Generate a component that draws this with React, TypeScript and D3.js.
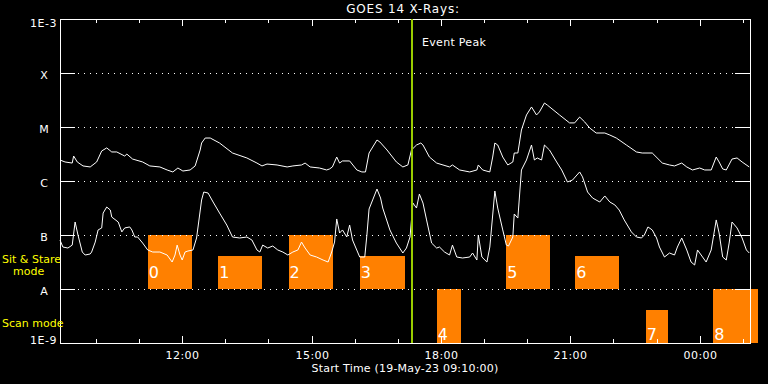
import React from "react";
import * as d3 from "d3";

// ---- data ----
const START = Date.UTC(2023, 4, 19, 9, 10, 0);
const DURATION_H = 16;
const title = "GOES 14 X-Rays:";
const xTitle = "Start Time (19-May-23 09:10:00)";
const eventPeak = "17:20";

const classLabels = ["X", "M", "C", "B", "A"];
const classValues = [1e-4, 1e-5, 1e-6, 1e-7, 1e-8];

// [minutes since start, flux W/m^2]
const longChannel: [number, number][] = [
  [0, 2.45e-6], [7, 2.25e-6], [17, 2.15e-6], [19, 2.9e-6], [24, 2.25e-6], [32, 1.9e-6], [42, 1.82e-6],
  [51, 2.25e-6], [58, 3.6e-6], [65, 4.1e-6], [72, 3.45e-6], [79, 3.45e-6], [90, 2.9e-6], [93, 3.15e-6],
  [101, 2.55e-6], [115, 2.25e-6], [125, 1.9e-6], [139, 1.82e-6], [149, 1.6e-6], [157, 1.47e-6],
  [164, 1.74e-6], [171, 1.53e-6], [181, 1.6e-6], [188, 1.9e-6], [195, 3.75e-6], [197, 5.05e-6],
  [202, 6.25e-6], [209, 6.25e-6], [222, 5.05e-6], [240, 3.3e-6], [260, 2.67e-6], [274, 2.15e-6],
  [281, 1.9e-6], [288, 2.06e-6], [302, 1.98e-6], [316, 1.82e-6], [324, 1.9e-6], [336, 1.98e-6],
  [341, 2.15e-6], [348, 1.82e-6], [361, 1.74e-6], [371, 1.6e-6], [375, 1.67e-6], [379, 1.82e-6],
  [385, 2.78e-6], [389, 2.15e-6], [393, 2.35e-6], [403, 2.35e-6], [413, 1.6e-6], [420, 1.47e-6],
  [425, 1.47e-6], [430, 3.3e-6], [441, 5.74e-6], [445, 5.28e-6], [455, 3.75e-6], [468, 2.25e-6],
  [477, 1.82e-6], [484, 1.98e-6], [489, 3.75e-6], [496, 4.64e-6], [502, 5.05e-6], [505, 4.64e-6],
  [514, 2.78e-6], [524, 2.15e-6], [542, 1.82e-6], [546, 1.98e-6], [556, 1.6e-6], [570, 1.47e-6],
  [580, 1.6e-6], [582, 1.98e-6], [588, 1.6e-6], [598, 1.47e-6], [602, 2.78e-6], [605, 5.05e-6],
  [609, 4.64e-6], [616, 2.78e-6], [623, 1.98e-6], [630, 2.25e-6], [632, 3.3e-6], [637, 3.3e-6],
  [642, 8.8e-6], [649, 1.67e-5], [656, 2.35e-5], [663, 1.67e-5], [667, 1.9e-5], [674, 2.78e-5],
  [678, 2.55e-5], [695, 1.67e-5], [709, 1.19e-5], [716, 1.19e-5], [723, 1.53e-5], [730, 1.24e-5],
  [737, 9.58e-6], [746, 7.74e-6], [758, 7.74e-6], [765, 7.1e-6], [774, 6.25e-6], [788, 4.64e-6],
  [802, 3.45e-6], [810, 3.3e-6], [824, 3.3e-6], [838, 2.15e-6], [848, 1.98e-6], [855, 1.9e-6],
  [865, 2.15e-6], [872, 1.82e-6], [880, 1.6e-6], [890, 1.74e-6], [897, 1.6e-6], [906, 1.6e-6],
  [913, 2.78e-6], [917, 2.25e-6], [922, 1.67e-6], [927, 1.6e-6], [935, 2.55e-6], [942, 2.67e-6],
  [949, 2.25e-6], [959, 1.82e-6],
];

const shortChannel: [number, number][] = [
  [0, 8.08e-8], [4, 5.99e-8], [11, 5.74e-8], [17, 6.5e-8], [21, 1.74e-7], [25, 1.0e-7], [31, 4.84e-8],
  [35, 4.26e-8], [42, 4.45e-8], [44, 4.84e-8], [49, 7.4e-8], [53, 1.24e-7], [58, 1.35e-7], [60, 2.55e-7],
  [65, 3.3e-7], [70, 2.9e-7], [72, 2.15e-7], [81, 1.74e-7], [86, 1.14e-7], [90, 1.35e-7], [97, 1.41e-7],
  [100, 1.24e-7], [104, 9.18e-8], [108, 9.18e-8], [115, 7.1e-8], [122, 5.28e-8], [129, 4.84e-8],
  [139, 4.84e-8], [149, 4.26e-8], [156, 3.16e-8], [160, 4.26e-8], [163, 6.5e-8], [167, 4.26e-8],
  [170, 3.44e-8], [174, 4.84e-8], [178, 5.05e-8], [185, 5.28e-8], [190, 8.8e-8], [197, 4.45e-7],
  [200, 6.25e-7], [206, 5.99e-7], [213, 4.08e-7], [222, 2.55e-7], [232, 1.53e-7], [240, 9.18e-8],
  [250, 8.8e-8], [260, 9.18e-8], [267, 8.08e-8], [274, 5.28e-8], [278, 4.84e-8], [282, 6.5e-8],
  [289, 5.74e-8], [296, 6.25e-8], [303, 5.28e-8], [310, 4.84e-8], [317, 4.26e-8], [324, 4.84e-8],
  [331, 5.28e-8], [336, 7.4e-8], [341, 5.74e-8], [348, 4.26e-8], [357, 3.91e-8], [366, 3.44e-8],
  [373, 3.16e-8], [378, 4.84e-8], [382, 7.4e-8], [385, 1.98e-7], [389, 1.09e-7], [393, 1.24e-7],
  [399, 9.18e-8], [403, 1.53e-7], [407, 8.08e-8], [417, 3.91e-8], [424, 3.91e-8], [427, 1.0e-7],
  [430, 3.03e-7], [435, 4.45e-7], [441, 7.1e-7], [446, 4.84e-7], [449, 3.16e-7], [459, 1.24e-7],
  [468, 7.1e-8], [477, 4.64e-8], [482, 5.74e-8], [487, 9.18e-8], [491, 3.91e-7], [496, 3.16e-7],
  [500, 5.74e-7], [505, 3.91e-7], [510, 1.9e-7], [517, 7.1e-8], [524, 5.74e-8], [528, 5.99e-8],
  [535, 4.84e-8], [542, 4.26e-8], [546, 6.5e-8], [552, 3.91e-8], [560, 3.75e-8], [570, 3.91e-8],
  [574, 4.64e-8], [580, 3.44e-8], [582, 1.0e-7], [587, 3.91e-8], [594, 3.16e-8], [598, 5.99e-8],
  [605, 6.52e-7], [609, 3.16e-7], [616, 1.24e-7], [621, 6.5e-8], [624, 6.25e-8], [630, 9.18e-8],
  [632, 2.45e-7], [637, 2.06e-7], [642, 1.6e-6], [649, 2.45e-6], [656, 4.64e-6], [660, 2.45e-6],
  [664, 2.67e-6], [670, 2.45e-6], [674, 4.64e-6], [681, 3.75e-6], [691, 2.25e-6], [698, 1.6e-6],
  [706, 9.58e-7], [713, 1.04e-6], [723, 1.47e-6], [727, 1.19e-6], [734, 6.25e-7], [741, 4.84e-7],
  [751, 4.08e-7], [758, 5.28e-7], [765, 4.08e-7], [772, 3.6e-7], [778, 2.9e-7], [785, 1.9e-7],
  [795, 1.14e-7], [802, 9.18e-8], [809, 8.8e-8], [813, 1.0e-7], [818, 1.41e-7], [824, 1.24e-7],
  [830, 8.8e-8], [834, 5.99e-8], [841, 3.91e-8], [848, 4.64e-8], [855, 4.26e-8], [859, 5.99e-8],
  [865, 8.8e-8], [872, 5.28e-8], [878, 3.16e-8], [883, 2.78e-8], [887, 5.28e-8], [894, 3.91e-8],
  [899, 3.16e-8], [906, 5.28e-8], [913, 1.9e-7], [917, 1.09e-7], [922, 3.91e-8], [927, 3.44e-8],
  [931, 7.1e-8], [935, 1.74e-7], [942, 1.35e-7], [949, 8.8e-8], [955, 5.28e-8], [959, 4.64e-8],
];

// observation windows
const windowStart = ["11:12", "12:50", "14:28", "16:07", "17:54", "19:31", "21:07", "22:45", "00:19"];
const windowEnd = ["12:13", "13:51", "15:29", "17:10", "18:27", "20:32", "22:08", "23:16", "01:22"];
const windowMode = ["sit", "sit", "sit", "sit", "scan", "sit", "sit", "scan", "scan"];
const windowTop = [1e-7, 4.1e-8, 1e-7, 4.1e-8, 1e-8, 1e-7, 4.1e-8, 4.1e-9, 1e-8];

// ---- helpers ----
const parseClock = (s: string) => {
  const [h, m] = s.split(":").map(Number);
  let t = Date.UTC(2023, 4, 19, h, m, 0);
  if (t < START) t += 24 * 3600e3;
  return new Date(t);
};
const fromMin = (m: number) => new Date(START + m * 60000);

const W = 768, H = 384;
const L = 60, R = 750, T = 19, B = 343;
const FONT = "'DejaVu Sans', sans-serif";

export default function App() {
  const x = d3.scaleUtc().domain([new Date(START), new Date(START + DURATION_H * 3600e3)]).range([L, R]);
  const y = d3.scaleLog().domain([1e-9, 1e-3]).range([B, T]);
  const line = d3
    .line<[number, number]>()
    .x((d) => x(fromMin(d[0])))
    .y((d) => y(d[1]));
  const minor = x.ticks(d3.utcHour.every(1)!);
  const major = x.ticks(d3.utcHour.every(3)!);
  const fmt = d3.utcFormat("%H:%M");
  const evX = Math.round(x(parseClock(eventPeak)));

  return (
    <svg width={W} height={H} style={{ position: "absolute", left: 0, top: 0, background: "#000", display: "block" }}>
      <rect x={0} y={0} width={W} height={H} fill="#000" />
      {/* windows */}
      {windowStart.map((s, i) => {
        const x0 = x(parseClock(s));
        const x1 = x(parseClock(windowEnd[i]));
        const bottom = windowMode[i] === "sit" ? 1e-8 : 1e-9;
        const y0 = y(windowTop[i]);
        const y1 = y(bottom);
        return (
          <g key={i}>
            <rect x={Math.round(x0)} y={Math.round(y0)} width={Math.round(x1 - x0)} height={Math.round(y1 - y0)} fill="#ff8000" />
            <text x={x0 + 1} y={y1 - (windowMode[i] === "sit" ? 11 : 3)} fill="#fff" fontFamily={FONT} fontSize={16}>
              {i}
            </text>
          </g>
        );
      })}
      {/* grid */}
      <g shapeRendering="crispEdges">
        {classValues.map((v, i) => {
          const yy = Math.round(y(v)) + 0.5;
          return (
            <g key={i}>
              <line x1={78} x2={734} y1={yy} y2={yy} stroke="#fff" strokeDasharray="1,5" />
              <line x1={L} x2={L + 15} y1={yy} y2={yy} stroke="#fff" />
              <line x1={R - 15} x2={R} y1={yy} y2={yy} stroke="#fff" />
              <text x={44} y={yy + 5} fill="#fff" fontFamily={FONT} fontSize={11} textAnchor="middle">
                {classLabels[i]}
              </text>
            </g>
          );
        })}
        {minor.map((t, i) => {
          const xx = Math.round(x(t)) + 0.5;
          return (
            <g key={"m" + i}>
              <line x1={xx} x2={xx} y1={T} y2={T + 4} stroke="#fff" />
              <line x1={xx} x2={xx} y1={B} y2={B - 4} stroke="#fff" />
            </g>
          );
        })}
        {major.map((t, i) => {
          const xx = Math.round(x(t)) + 0.5;
          return (
            <g key={"M" + i}>
              <line x1={xx} x2={xx} y1={T} y2={T + 7} stroke="#fff" />
              <line x1={xx} x2={xx} y1={B} y2={B - 7} stroke="#fff" />
              <text x={xx} y={359} fill="#fff" fontFamily={FONT} fontSize={11} textAnchor="middle" letterSpacing={0.5}>
                {fmt(t)}
              </text>
            </g>
          );
        })}
        <rect x={L + 0.5} y={T + 0.5} width={R - L} height={B - T} fill="none" stroke="#fff" />
      </g>
      {/* curves */}
      <path d={line(longChannel) || ""} fill="none" stroke="#fff" strokeWidth={1} />
      <path d={line(shortChannel) || ""} fill="none" stroke="#fff" strokeWidth={1} />
      {/* event peak */}
      <line x1={evX} x2={evX} y1={T} y2={B} stroke="#99cc00" strokeWidth={2} />
      <text x={evX + 10} y={46} fill="#fff" fontFamily={FONT} fontSize={11} letterSpacing={0.3}>
        Event Peak
      </text>
      {/* labels */}
      <text x={(L + R) / 2 - 2} y={13} fill="#fff" fontFamily={FONT} fontSize={12} textAnchor="middle" letterSpacing={0.8}>
        {title}
      </text>
      <text x={57} y={27} fill="#fff" fontFamily={FONT} fontSize={11} textAnchor="end" letterSpacing={0.5}>1E-3</text>
      <text x={57} y={344} fill="#fff" fontFamily={FONT} fontSize={11} textAnchor="end" letterSpacing={0.5}>1E-9</text>
      <text x={2} y={263} fill="#ffff00" fontFamily={FONT} fontSize={11}>Sit &amp; Stare</text>
      <text x={13} y={275} fill="#ffff00" fontFamily={FONT} fontSize={11}>mode</text>
      <text x={2} y={327} fill="#ffff00" fontFamily={FONT} fontSize={11}>Scan mode</text>
      <text x={405} y={372} fill="#fff" fontFamily={FONT} fontSize={11} textAnchor="middle" letterSpacing={0.2}>
        {xTitle}
      </text>
    </svg>
  );
}
